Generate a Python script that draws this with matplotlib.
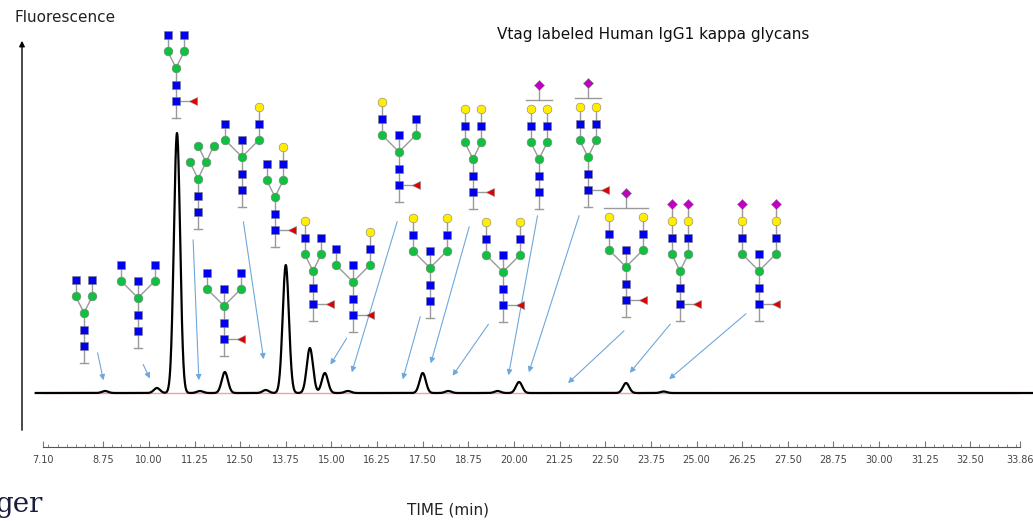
import numpy as np
import matplotlib.pyplot as plt
from matplotlib.patches import FancyArrowPatch

# peak retention times (min) and heights (arbitrary fluorescence units)
peak_times = [8.80, 10.22, 10.77, 11.40, 12.08, 13.20, 13.75, 14.41, 14.82, 15.45,
              17.50, 18.20, 19.55, 20.14, 23.07, 24.10]
peak_heights = [2, 5, 260, 2, 21, 3, 128, 45, 20, 2, 20, 2, 2, 11, 10, 1.5]

x_ticks = [7.10] + [8.75 + 1.25 * i for i in range(20)] + [33.86]

# glycans: x, tick y (pixels), fucose, bisecting GlcNAc, left arm, right arm, bracket sia
glycans = [
    (84, 363, False, False, "N", "N", False),
    (138, 348, False, True, "N", "N", False),
    (176, 118, True, False, "N", "N", False),
    (242, 207, False, True, "N", "NG", False),
    (275, 247, True, False, "N", "NG", False),
    (224, 356, True, True, "N", "N", False),
    (313, 321, True, False, "NG", "N", False),
    (353, 332, True, True, "N", "NG", False),
    (399, 202, True, True, "NG", "N", False),
    (430, 318, False, True, "NG", "NG", False),
    (473, 209, True, False, "NG", "NG", False),
    (539, 209, False, False, "NG", "NG", True),
    (588, 207, True, False, "NG", "NG", True),
    (503, 322, True, True, "NG", "NG", False),
    (626, 317, True, True, "NG", "NG", True),
    (680, 321, True, False, "NGS", "NGS", False),
    (759, 321, True, True, "NGS", "NGS", False),
]
man5 = (198, 229)

# pointer arrows (tail -> head), pixels
pointers = [
    ((97, 350), (104, 383)), ((142, 362), (151, 381)), ((193, 237), (199, 383)),
    ((243, 219), (264, 362)), ((348, 336), (329, 367)), ((398, 219), (351, 375)),
    ((421, 314), (402, 382)), ((470, 224), (430, 366)), ((490, 322), (451, 378)),
    ((538, 213), (508, 378)), ((580, 213), (528, 375)), ((626, 329), (566, 385)),
    ((672, 322), (628, 375)), ((748, 312), (667, 381)),
]

W, H = 1033, 521
fig = plt.figure(figsize=(W / 100, H / 100), dpi=100)

# chromatogram axes: x 7.10..33.86 at px 43..1020, baseline at px 393
ax = fig.add_axes([43 / W, 1 - 447 / H, (1020 - 43) / W, (447 - 20) / H])
t = np.linspace(6.9, 34.2, 4000)
sig = np.zeros_like(t)
for t0, h in zip(peak_times, peak_heights):
    sig += h * np.exp(-0.5 * ((t - t0) / 0.085) ** 2)
ax.plot([7.1, 33.86], [0, 0], color="#f4a0a0", lw=1, zorder=1)
ax.plot(t, sig, color="black", lw=1.6, zorder=2, clip_on=False)
ax.set_xlim(7.10, 33.86)
ax.set_ylim(-54, 373)
for s in ["top", "right", "left"]:
    ax.spines[s].set_visible(False)
ax.spines["bottom"].set_color("#555555")
ax.set_yticks([])
ax.set_xticks(x_ticks)
ax.set_xticklabels(["%.2f" % v for v in x_ticks], fontsize=7, color="#444444")
ax.set_xticks(np.arange(7.25, 33.86, 0.25), minor=True)
ax.tick_params(axis="x", which="both", direction="in", color="#777777", pad=6)
ax.tick_params(axis="x", which="major", length=4)
ax.tick_params(axis="x", which="minor", length=2)
ax.patch.set_alpha(0)

# overlay in pixel coordinates
ov = fig.add_axes([0, 0, 1, 1])
ov.set_xlim(0, W)
ov.set_ylim(H, 0)
ov.axis("off")
ov.patch.set_alpha(0)

ov.annotate("", xy=(22, 38), xytext=(22, 433),
            arrowprops=dict(arrowstyle="-|>", color="black", lw=1, mutation_scale=8))
ov.text(15, 18, "Fluorescence", fontsize=11, va="center", ha="left", color="#222222")
ov.text(653, 35, "Vtag labeled Human IgG1 kappa glycans", fontsize=11, va="center",
        ha="center", color="#111111")
ov.text(448, 510, "TIME (min)", fontsize=11, va="center", ha="center", color="#222222")
ov.text(-4, 505, "ger", fontsize=20, family="DejaVu Serif", va="center", ha="left",
        color="#1c1c40")

for (x0, y0), (x1, y1) in pointers:
    ov.add_patch(FancyArrowPatch((x0, y0), (x1, y1), arrowstyle="-|>", mutation_scale=8,
                                 color="#6fa8dc", lw=0.8))

u = 16.7
ms = 6.3
line_c = "#9a9a9a"
sym = {"N": ("s", "#0000ee"), "M": ("o", "#10c040"), "G": ("o", "#ffee00"),
       "S": ("D", "#c000c0"), "F": ("<", "#e00000")}


def mark(x, y, kind):
    m, c = sym[kind]
    size = ms * 0.75 if kind == "S" else ms
    ov.plot(x, y, marker=m, color=c, ms=size, mec="#808080", mew=0.4, zorder=3)


def link(x0, y0, x1, y1):
    ov.plot([x0, x1], [y0, y1], color=line_c, lw=1, zorder=2)


def stem(x, y0, fuc):
    link(x, y0, x, y0 - 3 * u)
    link(x - 4, y0, x + 4, y0)
    mark(x, y0 - u, "N")
    mark(x, y0 - 2 * u, "N")
    mark(x, y0 - 3 * u, "M")
    if fuc:
        link(x, y0 - u, x + 17, y0 - u)
        mark(x + 17, y0 - u, "F")
    return y0 - 3 * u


for x, y0, fuc, bis, left, right, bracket in glycans:
    core = stem(x, y0, fuc)
    dx = u if bis else u / 2
    top = core
    for side, arm in ((-1, left), (1, right)):
        ax_ = x + side * dx
        link(x, core, ax_, core - u)
        mark(ax_, core - u, "M")
        y = core - u
        for r in arm:
            link(ax_, y, ax_, y - u)
            y -= u
            mark(ax_, y, r)
        top = min(top, y)
    if bis:
        link(x, core, x, core - u)
        mark(x, core - u, "N")
    if bracket:
        yb = top - 9
        link(x - dx - 5, yb, x + dx + 5, yb)
        link(x, yb, x, yb - 12)
        mark(x, yb - 15, "S")

# oligomannose structure
x, y0 = man5
core = stem(x, y0, False)
link(x, core, x - 8, core - u)
link(x, core, x + 8, core - u)
link(x + 8, core - u, x, core - 2 * u)
link(x + 8, core - u, x + 16, core - 2 * u)
for px, py in [(x - 8, core - u), (x + 8, core - u), (x, core - 2 * u), (x + 16, core - 2 * u)]:
    mark(px, py, "M")

fig.savefig("out.png", dpi=100)
